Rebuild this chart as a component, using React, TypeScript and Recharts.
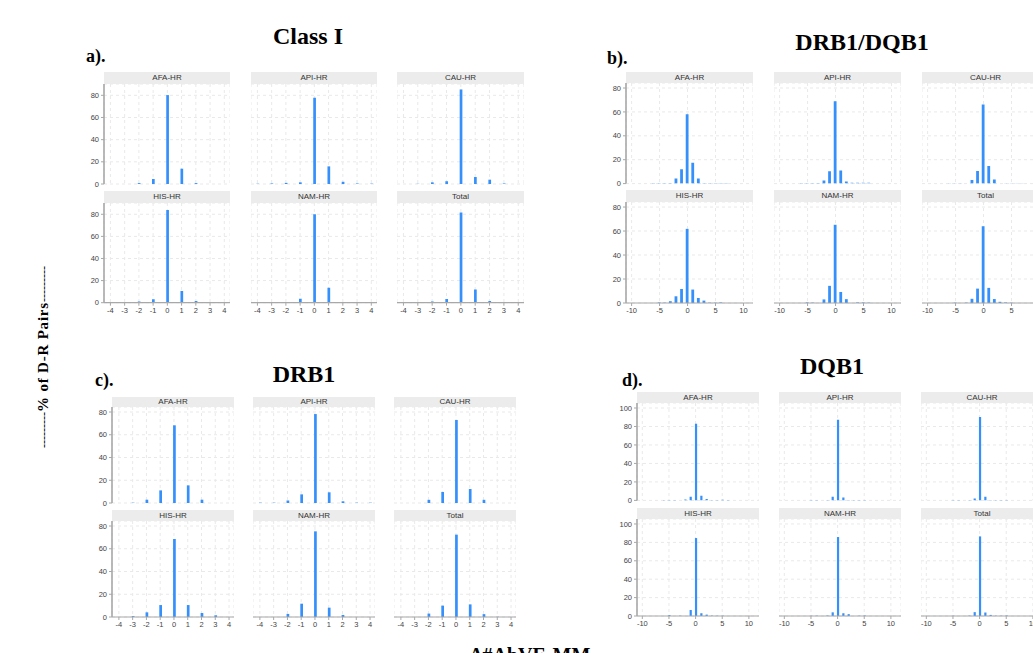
import { BarChart, Bar, XAxis, YAxis, CartesianGrid } from 'recharts'

const facetLabels = ['AFA-HR', 'API-HR', 'CAU-HR', 'HIS-HR', 'NAM-HR', 'Total']

// x positions (difference in number of mismatches)
const narrowX = [-4, -3, -2, -1, 0, 1, 2, 3, 4]
const wideX = [-10, -9, -8, -7, -6, -5, -4, -3, -2, -1, 0, 1, 2, 3, 4, 5, 6, 7, 8, 9, 10]
const narrowTicks = [-4, -3, -2, -1, 0, 1, 2, 3, 4]
const wideTicks = [-10, -5, 0, 5, 10]
const ticks80 = [0, 20, 40, 60, 80]
const ticks100 = [0, 20, 40, 60, 80, 100]

// a) Class I
const clsI_AFA = [0, 0, 0.8, 4.5, 80.2, 13.8, 0.8, 0, 0]
const clsI_API = [0.2, 0.5, 1, 1.5, 77.8, 15.9, 2, 0.5, 0.3]
const clsI_CAU = [0, 0.2, 1.5, 2.5, 85.3, 6.3, 3.9, 0.5, 0]
const clsI_HIS = [0, 0, 1, 3, 83.9, 10.5, 1.5, 0, 0]
const clsI_NAM = [0, 0.7, 0.5, 3.6, 80, 13.5, 0.3, 0.2, 0]
const clsI_TOT = [0, 0.2, 1, 3.3, 81.5, 12, 1.5, 0.3, 0]

// b) DRB1/DQB1
const drdq_AFA = [0, 0, 0, 0, 0.5, 0.5, 0.5, 0.5, 4.2, 12, 58, 17.5, 4.2, 0.5, 0.5, 0.5, 0.5, 0.5, 0, 0, 0]
const drdq_API = [0, 0, 0, 0, 0.5, 0.5, 0.5, 0.5, 2.5, 10.3, 69, 11, 1.8, 0.7, 0.7, 0.7, 0.7, 0, 0, 0, 0]
const drdq_CAU = [0, 0, 0, 0, 0.3, 0.3, 0.3, 0, 3, 10.6, 66.3, 14.8, 3.5, 0, 0.3, 0.3, 0.3, 0.3, 0, 0, 0]
const drdq_HIS = [0, 0, 0, 0, 0, 0.5, 0.3, 1.5, 5.6, 11.7, 61.8, 11.2, 4.2, 2, 0.3, 0.3, 0.5, 0, 0, 0, 0]
const drdq_NAM = [0, 0, 0, 0, 0, 0.5, 0.3, 0, 3, 14.3, 65.2, 9.2, 3.2, 0, 0.5, 0.5, 0.3, 0, 0, 0, 0]
const drdq_TOT = [0, 0, 0, 0, 0, 0.3, 0, 0.3, 3.5, 12, 64, 12.6, 3.3, 1, 0.5, 0.3, 0, 0, 0, 0, 0]

// c) DRB1
const drb1_AFA = [0, 0.3, 2.9, 11.1, 68.3, 15.5, 2.9, 0, 0]
const drb1_API = [0.3, 0.3, 2.2, 7.6, 78.2, 9.4, 1.5, 0.3, 0.3]
const drb1_CAU = [0, 0, 2.8, 9.7, 73, 12.3, 2.8, 0, 0]
const drb1_HIS = [0, 0.8, 4.1, 10.5, 68.6, 10.5, 3.5, 1.5, 0]
const drb1_NAM = [0, 0, 2.7, 11.7, 75.3, 8.2, 1.8, 0, 0]
const drb1_TOT = [0, 0, 3, 10, 72.4, 11.1, 2.5, 0.2, 0]

// d) DQB1
const dqb1_AFA = [0, 0, 0, 0, 0.5, 0.5, 0.3, 0, 1, 4, 83, 5, 1.5, 0.4, 0.4, 0.6, 0.5, 0, 0, 0, 0]
const dqb1_API = [0, 0, 0, 0, 0, 0.5, 0.3, 0, 0.3, 4, 87.3, 3, 0.4, 0.4, 0.4, 0.5, 0, 0, 0, 0, 0]
const dqb1_CAU = [0, 0, 0, 0, 0, 0.3, 0.3, 0, 0.5, 2, 90.2, 4, 0.5, 0.3, 0.3, 0.5, 0, 0, 0, 0, 0]
const dqb1_HIS = [0, 0, 0, 0, 0, 1, 0, 0.3, 0, 6.5, 84.7, 3, 1.5, 0.4, 0.3, 0.3, 0, 0, 0, 0, 0]
const dqb1_NAM = [0, 0, 0, 0, 0, 0.3, 0.3, 0, 0.5, 4, 85.8, 3, 2, 0, 0.3, 0.5, 0, 0, 0, 0, 0]
const dqb1_TOT = [0, 0, 0, 0, 0, 0.3, 0, 0, 0.4, 4.2, 86.5, 3.8, 1.2, 0.3, 0.3, 0.5, 0, 0, 0, 0, 0]

const BAR = '#3590fb'
const AXIS = '#a8a8a8'
const TICK_TEXT = '#444'
const SANS = 'Arial, "Liberation Sans", sans-serif'
const SERIF = '"Times New Roman", "Liberation Serif", serif'

type Panel = {
  cols: [number, number][]
  rows: [number, number, number][] // strip top, plot top, plot bottom
  xs: number[]
  series: number[][]
  xDomain: [number, number]
  xTicks: number[]
  yDomain: [number, number]
  yTicks: number[]
  barSize: number
}

const panels: Panel[] = [
  {
    cols: [[104, 230], [251, 377], [397, 524]],
    rows: [[72, 84, 184], [191, 203, 302.7]],
    xs: narrowX,
    series: [clsI_AFA, clsI_API, clsI_CAU, clsI_HIS, clsI_NAM, clsI_TOT],
    xDomain: [-4.45, 4.4],
    xTicks: narrowTicks,
    yDomain: [0, 90.2],
    yTicks: ticks80,
    barSize: 2.7,
  },
  {
    cols: [[626, 753], [774, 901], [922, 1049]],
    rows: [[71.5, 82.7, 183.3], [190, 201.7, 302.7]],
    xs: wideX,
    series: [drdq_AFA, drdq_API, drdq_CAU, drdq_HIS, drdq_NAM, drdq_TOT],
    xDomain: [-11, 11.7],
    xTicks: wideTicks,
    yDomain: [0, 84.2],
    yTicks: ticks80,
    barSize: 2.8,
  },
  {
    cols: [[112, 234], [253, 375], [394, 516]],
    rows: [[396.5, 407.3, 503.3], [510, 521, 617]],
    xs: narrowX,
    series: [drb1_AFA, drb1_API, drb1_CAU, drb1_HIS, drb1_NAM, drb1_TOT],
    xDomain: [-4.5, 4.36],
    xTicks: narrowTicks,
    yDomain: [0, 84.4],
    yTicks: ticks80,
    barSize: 2.7,
  },
  {
    cols: [[637, 759], [779, 901], [921, 1043]],
    rows: [[391.5, 403.3, 500.7], [507.7, 519, 616]],
    xs: wideX,
    series: [dqb1_AFA, dqb1_API, dqb1_CAU, dqb1_HIS, dqb1_NAM, dqb1_TOT],
    xDomain: [-11, 11.9],
    xTicks: wideTicks,
    yDomain: [0, 105.4],
    yTicks: ticks100,
    barSize: 2.2,
  },
]

type FacetProps = {
  label: string
  left: number
  right: number
  stripTop: number
  top: number
  bottom: number
  xs: number[]
  values: number[]
  showX: boolean
  showY: boolean
  panel: Panel
}

function Facet({ label, left, right, stripTop, top, bottom, xs, values, showX, showY, panel }: FacetProps) {
  const yW = showY ? 20 : 0
  const xH = showX ? 14 : 0
  const padB = showX ? 0 : 5
  const w = right - left
  const h = bottom - top
  const data = xs.map((x, i) => ({ x, v: values[i] }))
  return (
    <>
      <div
        style={{
          position: 'absolute',
          left,
          top: stripTop,
          width: w,
          height: top - stripTop,
          background: '#ececec',
          color: '#333',
          fontFamily: SANS,
          fontSize: 8,
          lineHeight: `${top - stripTop}px`,
          textAlign: 'center',
        }}
      >
        {label}
      </div>
      <div style={{ position: 'absolute', left: left - yW, top }}>
        <BarChart width={w + yW} height={h + xH + padB} data={data} margin={{ top: 0, right: 0, bottom: padB, left: 0 }}>
          <CartesianGrid stroke="#e9e9e9" strokeDasharray="3 3" />
          <XAxis
            type="number"
            dataKey="x"
            domain={panel.xDomain}
            ticks={panel.xTicks}
            allowDataOverflow
            hide={!showX}
            height={xH}
            interval={0}
            tick={{ fill: TICK_TEXT, fontSize: 7.5, fontFamily: SANS }}
            tickLine={{ stroke: AXIS }}
            tickSize={3}
            axisLine={{ stroke: AXIS, strokeWidth: 1.2 }}
          />
          <YAxis
            type="number"
            domain={panel.yDomain}
            ticks={panel.yTicks}
            allowDataOverflow
            hide={!showY}
            width={yW}
            interval={0}
            tick={{ fill: TICK_TEXT, fontSize: 7.5, fontFamily: SANS }}
            tickLine={{ stroke: AXIS }}
            tickSize={3}
            axisLine={{ stroke: AXIS, strokeWidth: 1.6 }}
          />
          <Bar dataKey="v" fill={BAR} barSize={panel.barSize} isAnimationActive={false} />
        </BarChart>
      </div>
    </>
  )
}

export default function App() {
  return (
    <div
      style={{
        position: 'absolute',
        left: 0,
        top: 0,
        width: 1033,
        height: 653,
        overflow: 'hidden',
        background: '#fff',
      }}
    >
      {panels.map((p, pi) =>
        p.series.map((values, i) => {
          const row = Math.floor(i / 3)
          const col = i % 3
          const [stripTop, top, bottom] = p.rows[row]
          const [left, right] = p.cols[col]
          return (
            <Facet
              key={`${pi}-${i}`}
              label={facetLabels[i]}
              left={left}
              right={right}
              stripTop={stripTop}
              top={top}
              bottom={bottom}
              xs={p.xs}
              values={values}
              showX={row === 1}
              showY={col === 0}
              panel={p}
            />
          )
        })
      )}
      <svg width={1033} height={653} style={{ position: 'absolute', left: 0, top: 0, pointerEvents: 'none' }}>
        <g fontFamily={SERIF} fontWeight="bold" fill="#000">
          <text x={308} y={44} fontSize={24} textAnchor="middle">Class I</text>
          <text x={86} y={62} fontSize={18}>a).</text>
          <text x={862} y={50} fontSize={24} textAnchor="middle">DRB1/DQB1</text>
          <text x={607} y={64} fontSize={18}>b).</text>
          <text x={304} y={382} fontSize={24} textAnchor="middle">DRB1</text>
          <text x={95} y={386} fontSize={18}>c).</text>
          <text x={832} y={374} fontSize={24} textAnchor="middle">DQB1</text>
          <text x={622} y={386} fontSize={18}>d).</text>
          <text x={470} y={662} fontSize={20}>Δ#AbVE-MM</text>
          <text transform="translate(48 357) rotate(-90)" textAnchor="middle" fontSize={15} letterSpacing={0.8}>
            <tspan fontWeight="normal" fontSize={12} letterSpacing={0}>---------</tspan>
            % of D-R Pairs
            <tspan fontWeight="normal" fontSize={12} letterSpacing={0}>---------</tspan>
          </text>
        </g>
      </svg>
    </div>
  )
}
